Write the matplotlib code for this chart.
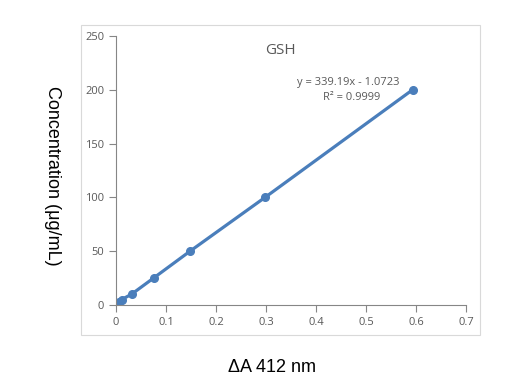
import matplotlib.pyplot as plt
from matplotlib.patches import Rectangle

# absorbance change vs GSH concentration
delta_a = [0, 0.005, 0.011, 0.031, 0.075, 0.148, 0.298, 0.593]
conc = [0, 2.5, 5, 10, 25, 50, 100, 200]
x_ticks = [0, 0.1, 0.2, 0.3, 0.4, 0.5, 0.6, 0.7]
x_tick_labels = ['0', '0.1', '0.2', '0.3', '0.4', '0.5', '0.6', '0.7']
y_ticks = [0, 50, 100, 150, 200, 250]

fig = plt.figure(figsize=(5.17, 3.87), dpi=100)
fig.patches.append(Rectangle((81 / 517, 1 - 335 / 387), 399 / 517, 310 / 387,
                             transform=fig.transFigure, fill=False,
                             edgecolor='#d9d9d9', linewidth=0.8))
ax = fig.add_axes([0.2244, 0.2119, 0.677, 0.695])

ax.plot(delta_a, conc, color='#4a7ebb', linewidth=2.3, marker='o',
        markersize=5.5, solid_capstyle='round')

ax.set_xlim(0, 0.7)
ax.set_ylim(0, 250)
ax.set_xticks(x_ticks)
ax.set_xticklabels(x_tick_labels)
ax.set_yticks(y_ticks)
for s in ['top', 'right']:
    ax.spines[s].set_visible(False)
for s in ['left', 'bottom']:
    ax.spines[s].set_color('#868686')
    ax.spines[s].set_linewidth(0.8)
ax.tick_params(colors='#868686', labelcolor='#595959', labelsize=8,
               length=5, width=0.8, direction='out')
for lab in ax.get_xticklabels() + ax.get_yticklabels():
    lab.set_family('Open Sans')

ax.text(0.328, 237, 'GSH', fontsize=11, color='#595959', family='Open Sans',
        ha='center', va='center')
ax.text(0.464, 207, 'y = 339.19x - 1.0723', fontsize=8, color='#595959',
        ha='center', va='center', family='Open Sans')
ax.text(0.472, 193, 'R\u00b2 = 0.9999', fontsize=8, color='#595959',
        ha='center', va='center', family='Open Sans')

fig.text(52 / 517, 1 - 176 / 387, 'Concentration (\u03bcg/mL)', rotation=-90,
         ha='center', va='center', fontsize=13, family='Liberation Sans')
fig.text(272 / 517, 1 - 368 / 387, '\u0394A 412 nm', ha='center', va='center',
         fontsize=13, family='Liberation Sans')

plt.savefig('out.png', dpi=100)
